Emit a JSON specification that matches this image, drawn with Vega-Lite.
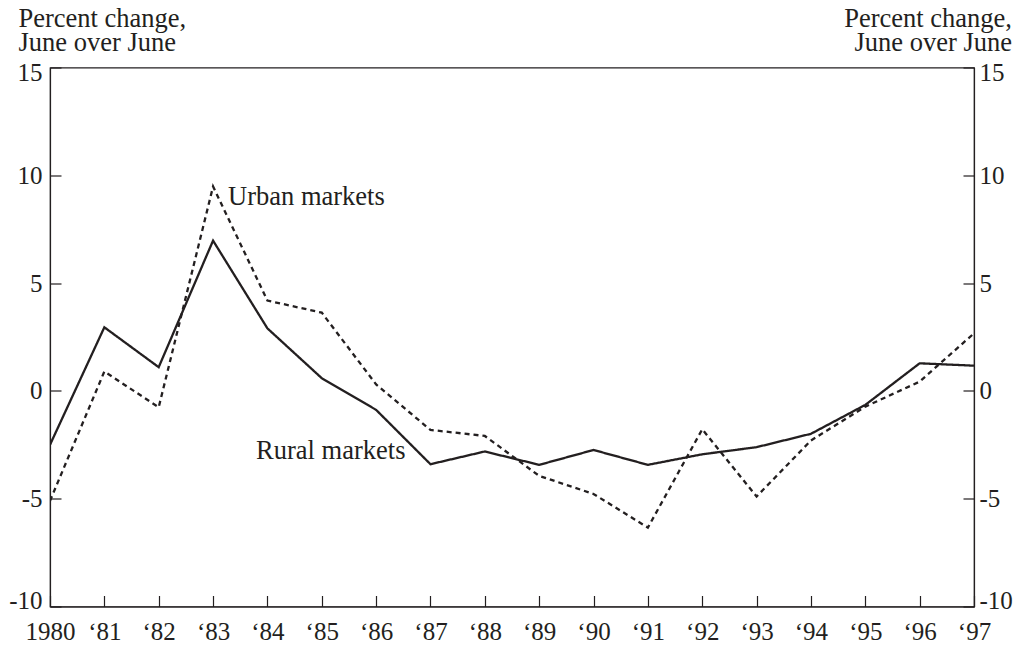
{
  "$schema": "https://vega.github.io/schema/vega-lite/v6.json",
  "width": 924,
  "height": 539,
  "autosize": {"type": "none"},
  "padding": {"left": 50, "top": 67.5, "right": 44, "bottom": 39.5},
  "background": "white",
  "config": {
    "font": "Liberation Serif",
    "view": {"stroke": "#231f20", "strokeWidth": 1.2},
    "axis": {
      "grid": false,
      "domain": true,
      "domainColor": "#231f20",
      "domainWidth": 1.2,
      "tickColor": "#231f20",
      "tickWidth": 1.2,
      "tickSize": -11,
      "labelColor": "#231f20",
      "labelFont": "Liberation Serif",
      "labelFontSize": 25,
      "titleColor": "#231f20",
      "titleFont": "Liberation Serif",
      "titleFontSize": 26.5,
      "titleFontWeight": "normal"
    }
  },
  "datasets": {
    "prices": [
      {"year": 1980, "series": "Rural markets", "value": -2.5},
      {"year": 1981, "series": "Rural markets", "value": 2.95},
      {"year": 1982, "series": "Rural markets", "value": 1.1},
      {"year": 1983, "series": "Rural markets", "value": 6.97},
      {"year": 1984, "series": "Rural markets", "value": 2.9},
      {"year": 1985, "series": "Rural markets", "value": 0.59},
      {"year": 1986, "series": "Rural markets", "value": -0.88},
      {"year": 1987, "series": "Rural markets", "value": -3.4},
      {"year": 1988, "series": "Rural markets", "value": -2.81},
      {"year": 1989, "series": "Rural markets", "value": -3.43},
      {"year": 1990, "series": "Rural markets", "value": -2.74},
      {"year": 1991, "series": "Rural markets", "value": -3.43},
      {"year": 1992, "series": "Rural markets", "value": -2.94},
      {"year": 1993, "series": "Rural markets", "value": -2.61},
      {"year": 1994, "series": "Rural markets", "value": -1.99},
      {"year": 1995, "series": "Rural markets", "value": -0.65},
      {"year": 1996, "series": "Rural markets", "value": 1.28},
      {"year": 1997, "series": "Rural markets", "value": 1.17},
      {"year": 1980, "series": "Urban markets", "value": -5.1},
      {"year": 1981, "series": "Urban markets", "value": 0.9},
      {"year": 1982, "series": "Urban markets", "value": -0.76},
      {"year": 1983, "series": "Urban markets", "value": 9.48},
      {"year": 1984, "series": "Urban markets", "value": 4.19},
      {"year": 1985, "series": "Urban markets", "value": 3.63},
      {"year": 1986, "series": "Urban markets", "value": 0.3},
      {"year": 1987, "series": "Urban markets", "value": -1.81},
      {"year": 1988, "series": "Urban markets", "value": -2.09},
      {"year": 1989, "series": "Urban markets", "value": -3.94},
      {"year": 1990, "series": "Urban markets", "value": -4.78},
      {"year": 1991, "series": "Urban markets", "value": -6.34},
      {"year": 1992, "series": "Urban markets", "value": -1.78},
      {"year": 1993, "series": "Urban markets", "value": -4.9},
      {"year": 1994, "series": "Urban markets", "value": -2.3},
      {"year": 1995, "series": "Urban markets", "value": -0.73},
      {"year": 1996, "series": "Urban markets", "value": 0.43},
      {"year": 1997, "series": "Urban markets", "value": 2.67}
    ]
  },
  "layer": [
    {
      "layer": [
        {
          "data": {"name": "prices"},
          "mark": {"type": "line", "color": "#231f20", "strokeWidth": 2.3, "clip": true},
          "encoding": {
            "x": {
              "field": "year",
              "type": "quantitative",
              "scale": {"domain": [1980, 1997], "nice": false, "zero": false},
              "axis": {
                "title": null,
                "values": [1980, 1981, 1982, 1983, 1984, 1985, 1986, 1987, 1988, 1989, 1990, 1991, 1992, 1993, 1994, 1995, 1996, 1997],
                "labelExpr": "datum.value == 1980 ? '1980' : '‘' + slice(toString(datum.value), 2)",
                "labelPadding": 24,
                "labelFlush": false,
                "labelOverlap": false
              }
            },
            "y": {
              "field": "value",
              "type": "quantitative",
              "scale": {"domain": [-10, 15], "nice": false, "zero": false},
              "axis": {
                "orient": "left",
                "values": [-10, -5, 0, 5, 10, 15],
                "labelExpr": "toString(datum.value)",
                "labelPadding": 19,
                "labelFlush": true,
                "labelFlushOffset": 7,
                "title": ["Percent change,", "June over June"],
                "titleAngle": 0,
                "titleAlign": "left",
                "titleBaseline": "alphabetic",
                "titleX": -32,
                "titleY": -41,
                "titleLineHeight": 23.5
              }
            },
            "detail": {"field": "series"},
            "strokeDash": {
              "field": "series",
              "type": "nominal",
              "scale": {"domain": ["Rural markets", "Urban markets"], "range": [[1, 0], [5, 4]]},
              "legend": null
            }
          }
        },
        {
          "data": {"name": "prices"},
          "transform": [{"filter": "datum.year == 1983 && datum.series == 'Urban markets'"}],
          "mark": {"type": "text", "align": "left", "baseline": "alphabetic", "dx": 15, "dy": 18.5, "fontSize": 26.5, "font": "Liberation Serif", "color": "#231f20"},
          "encoding": {
            "x": {"field": "year", "type": "quantitative"},
            "y": {"field": "value", "type": "quantitative"},
            "text": {"field": "series"}
          }
        },
        {
          "data": {"name": "prices"},
          "transform": [{"filter": "datum.year == 1987 && datum.series == 'Rural markets'"}],
          "mark": {"type": "text", "align": "right", "baseline": "alphabetic", "dx": -25, "dy": -5, "fontSize": 26.5, "font": "Liberation Serif", "color": "#231f20"},
          "encoding": {
            "x": {"field": "year", "type": "quantitative"},
            "y": {"field": "value", "type": "quantitative"},
            "text": {"field": "series"}
          }
        }
      ]
    },
    {
      "mark": {"type": "rule", "color": "#231f20", "strokeWidth": 1.2},
      "encoding": {
        "y": {
          "datum": 0,
          "type": "quantitative",
          "scale": {"domain": [-10, 15], "nice": false, "zero": false},
          "axis": {
            "orient": "right",
            "values": [-10, -5, 0, 5, 10, 15],
            "labelExpr": "toString(datum.value)",
            "labelPadding": 16,
            "labelFlush": true,
            "labelFlushOffset": 7,
            "title": ["Percent change,", "June over June"],
            "titleAngle": 0,
            "titleAlign": "right",
            "titleBaseline": "alphabetic",
            "titleX": 37.5,
            "titleY": -41,
            "titleLineHeight": 23.5
          }
        }
      }
    }
  ],
  "resolve": {"scale": {"y": "independent"}}
}
